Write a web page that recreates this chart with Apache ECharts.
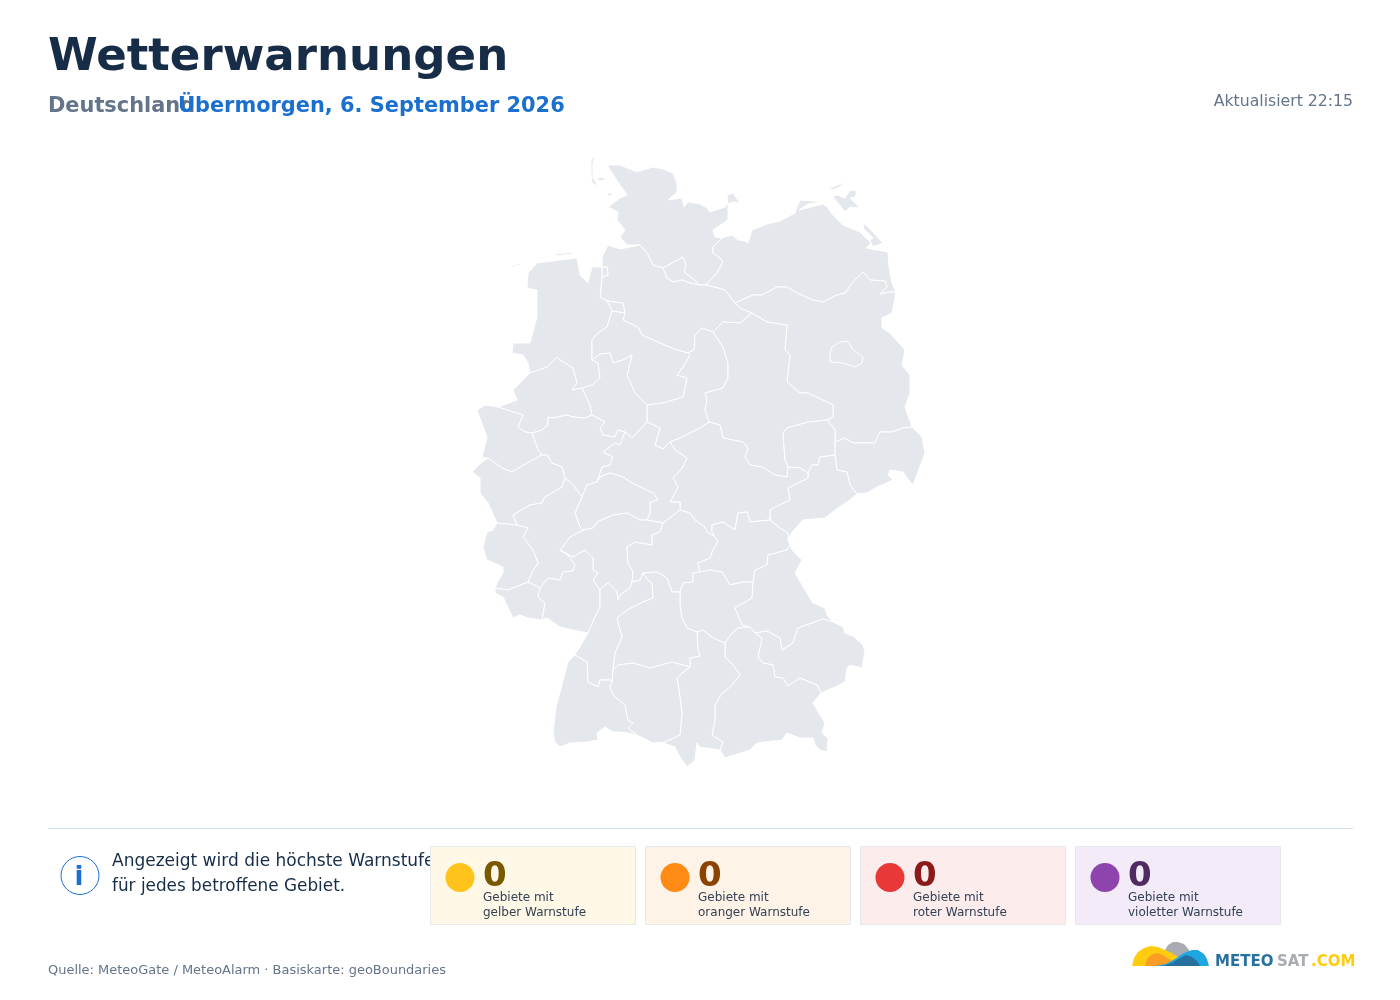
<!DOCTYPE html>
<html>
<head>
<meta charset="utf-8">
<title>Wetterwarnungen</title>
<script src="https://cdn.jsdelivr.net/npm/echarts@6/dist/echarts.min.js"></script>
<style>
html, body { margin: 0; padding: 0; background: #fff; }
#container { width: 1400px; height: 1000px; }
</style>
</head>
<body>
<div id="container"></div>
<script>
// Warngebiete, alle ohne Warnung
var regionNames = ['Schleswig-Holstein', 'Hamburg', 'Mecklenburg-Vorpommern', 'Lüneburg', 'Bremen', 'Bremerhaven', 'Weser-Ems', 'Hannover', 'Braunschweig',
	'Brandenburg', 'Sachsen-Anhalt', 'Leipzig', 'Dresden', 'Chemnitz', 'Thüringen', 'Münster', 'Detmold', 'Arnsberg', 'Düsseldorf-Köln', 'Kassel', 'Gießen', 'Darmstadt',
	'Trier', 'Koblenz', 'Westeifel-Saar', 'Saarland', 'Rheinhessen-Pfalz', 'Unterfranken', 'Oberfranken', 'Mittelfranken', 'Oberpfalz', 'Niederbayern', 'Oberbayern', 'Schwaben',
	'Karlsruhe', 'Stuttgart', 'Freiburg', 'Tübingen'];
var regionValues = [0, 0, 0, 0, 0, 0, 0, 0, 0, 0, 0, 0, 0, 0, 0, 0, 0, 0, 0, 0, 0, 0, 0, 0, 0, 0, 0, 0, 0, 0, 0, 0, 0, 0, 0, 0, 0, 0];

var warnCounts = [0, 0, 0, 0];
var warnLabels = ['gelber Warnstufe', 'oranger Warnstufe', 'roter Warnstufe', 'violetter Warnstufe'];
var warnColors = ['#ffc41c', '#ff8a14', '#e83838', '#8e44ad'];
var warnBacks = ['#fff8e6', '#fff3e8', '#fdecec', '#f3ebf8'];
var warnInks = ['#7a5800', '#8a4300', '#8b1a1a', '#4f2a63'];

// Umrisse der Gebiete (Ring pro Gebiet, weitere Ringe sind Inseln)
var regionShapes = {
	'Schleswig-Holstein': [[[640,245],[627,245],[620,237],[625,230],[617,220],[618,212],[608,207],[620,198],[627,195],[620,185],[612,173],[607,165],[620,165],[637,172],[653,167],[663,169],[673,173],[677,183],[677,192],[668,200],[682,198],[684,207],[688,202],[700,204],[707,208],[710,212],[725,207],[728,203],[728,220],[713,230],[715,237],[722,238],[713,247],[713,253],[720,258],[723,262],[717,273],[706,285],[700,285],[692,278],[684,272],[686,265],[683,257],[672,263],[663,268],[653,265],[647,253]],
		[[727,195],[733,193],[737,199],[740,203],[733,202],[728,204]],
		[[595,155],[591,160],[591,175],[592,183],[598,186],[593,178],[593,163]],
		[[597,178],[603,177],[605,180],[599,181]],
		[[607,194],[612,192],[611,196],[608,196]]],
	'Hamburg': [[[663,268],[672,263],[683,257],[686,265],[684,272],[692,278],[700,285],[690,283],[682,280],[673,282],[667,278]]],
	'Mecklenburg-Vorpommern': [[[722,238],[732,235],[738,240],[745,241],[748,243],[752,230],[767,224],[780,221],[795,213],[797,207],[800,200],[812,201],[823,202],[808,204],[799,210],[823,204],[827,207],[833,215],[843,225],[850,228],[860,232],[871,243],[866,248],[888,252],[889,267],[892,283],[896,292],[890,292],[880,294],[887,287],[885,281],[870,280],[863,272],[853,282],[845,293],[837,295],[823,302],[813,300],[797,293],[787,287],[777,287],[762,295],[753,295],[735,303],[725,290],[718,288],[706,285],[717,273],[723,262],[720,258],[713,253],[713,247]],
		[[837,195],[845,198],[850,190],[857,191],[855,197],[850,198],[860,208],[850,207],[845,212],[838,203],[833,197]],
		[[830,188],[845,182],[838,188],[832,190]],
		[[863,223],[867,226],[883,243],[873,247],[870,240],[873,238],[864,229]]],
	'Lüneburg': [[[640,245],[647,253],[653,265],[663,268],[667,278],[673,282],[682,280],[690,283],[700,285],[706,285],[718,288],[725,290],[735,303],[740,308],[752,313],[740,323],[723,322],[713,332],[702,328],[695,335],[694,350],[688,353],[677,350],[660,343],[642,335],[638,327],[627,322],[623,320],[625,313],[623,303],[607,301],[600,297],[602,277],[608,275],[607,267],[602,267],[602,257],[608,245],[620,249]]],
	'Bremen': [[[607,301],[623,303],[625,313],[612,311]]],
	'Bremerhaven': [[[602,267],[607,267],[608,275],[602,277]]],
	'Weser-Ems': [[[512,353],[513,343],[530,343],[537,317],[537,290],[527,288],[528,273],[537,263],[577,258],[580,275],[588,283],[592,267],[602,267],[602,277],[600,297],[607,301],[612,311],[607,327],[598,333],[592,340],[592,350],[592,360],[598,363],[600,378],[592,385],[582,388],[572,390],[577,383],[573,368],[560,360],[557,357],[547,367],[530,373],[528,363],[523,355]],
		[[510,267],[520,263],[519,265],[511,268]],[[535,259],[548,257],[548,258],[535,260]],[[555,254],[572,252],[572,254],[555,256]]],
	'Hannover': [[[623,320],[627,322],[638,327],[642,335],[660,343],[677,350],[688,353],[690,355],[683,367],[677,375],[687,378],[683,397],[663,403],[647,405],[635,393],[627,375],[632,355],[623,360],[613,363],[610,353],[600,354],[592,360],[592,350],[592,340],[598,333],[607,327],[612,311],[625,313]]],
	'Braunschweig': [[[713,332],[723,347],[728,363],[728,378],[723,388],[705,393],[707,400],[705,410],[709,422],[700,428],[680,438],[670,442],[663,449],[655,445],[660,428],[647,422],[647,405],[663,403],[683,397],[687,378],[677,375],[683,367],[690,355],[688,353],[694,350],[695,335],[702,328]]],
	'Brandenburg': [[[735,303],[753,295],[762,295],[777,287],[787,287],[797,293],[813,300],[823,302],[837,295],[845,293],[853,282],[863,272],[870,280],[885,281],[887,287],[880,294],[890,292],[896,292],[892,313],[882,318],[882,328],[890,333],[905,350],[902,365],[910,375],[910,393],[905,407],[912,427],[903,428],[892,432],[880,432],[875,443],[853,443],[845,438],[835,442],[835,430],[827,420],[833,417],[833,405],[827,402],[808,393],[800,393],[787,382],[790,355],[785,350],[787,325],[767,322],[752,313],[740,308]],
		[[830,353],[832,347],[840,342],[848,341],[853,350],[863,357],[862,363],[855,367],[843,363],[830,362]]],
	'Sachsen-Anhalt': [[[752,313],[767,322],[787,325],[785,350],[790,355],[787,382],[800,393],[808,393],[827,402],[833,405],[833,417],[827,420],[808,422],[787,428],[783,433],[785,460],[788,467],[787,477],[775,475],[762,467],[750,465],[745,457],[748,448],[743,442],[723,438],[720,425],[709,422],[705,410],[707,400],[705,393],[723,388],[728,378],[728,363],[723,347],[713,332],[723,322],[740,323]]],
	'Leipzig': [[[788,467],[785,460],[783,433],[787,428],[808,422],[827,420],[835,430],[835,442],[835,455],[820,457],[818,465],[812,465],[808,473],[800,468]]],
	'Dresden': [[[835,442],[845,438],[853,443],[875,443],[880,432],[892,432],[903,428],[912,427],[922,437],[925,453],[913,485],[907,478],[903,472],[890,470],[888,475],[893,480],[877,487],[867,493],[857,494],[850,485],[847,472],[837,470],[835,455]]],
	'Chemnitz': [[[835,455],[837,470],[847,472],[850,485],[857,494],[847,502],[835,510],[825,518],[803,520],[792,532],[788,540],[788,533],[780,528],[770,520],[770,510],[775,507],[790,500],[788,488],[800,482],[808,478],[808,473],[812,465],[818,465],[820,457]]],
	'Thüringen': [[[787,477],[788,467],[800,468],[808,473],[808,478],[800,482],[788,488],[790,500],[775,507],[770,510],[770,520],[750,522],[747,512],[738,513],[735,530],[723,522],[712,525],[712,532],[715,537],[707,532],[705,527],[695,520],[690,513],[680,510],[680,502],[670,502],[678,487],[673,478],[683,467],[687,458],[675,450],[670,442],[680,438],[700,428],[709,422],[720,425],[723,438],[743,442],[748,448],[745,457],[750,465],[762,467],[775,475]]],
	'Münster': [[[530,373],[547,367],[557,357],[560,360],[573,368],[577,383],[572,390],[582,388],[590,405],[592,415],[585,418],[573,417],[567,415],[553,418],[548,417],[548,425],[542,430],[532,433],[525,432],[518,427],[523,415],[498,407],[517,400],[513,390]]],
	'Detmold': [[[592,360],[600,354],[610,353],[613,363],[623,360],[632,355],[627,375],[635,393],[647,405],[647,422],[632,438],[625,432],[618,430],[615,437],[603,435],[600,428],[605,422],[592,415],[590,405],[582,388],[592,385],[600,378],[598,363]]],
	'Arnsberg': [[[592,415],[605,422],[600,428],[603,435],[615,437],[618,430],[625,432],[620,445],[615,443],[603,452],[613,457],[610,465],[602,467],[597,482],[587,485],[582,497],[573,485],[565,478],[562,467],[552,463],[547,455],[542,455],[538,450],[532,433],[542,430],[548,425],[548,417],[553,418],[567,415],[573,417],[585,418]]],
	'Düsseldorf-Köln': [[[498,407],[523,415],[518,427],[525,432],[532,433],[538,450],[542,455],[527,463],[512,472],[502,468],[488,458],[482,457],[487,437],[477,410],[485,405]]],
	'Kassel': [[[647,422],[660,428],[655,445],[663,449],[670,442],[675,450],[687,458],[683,467],[673,478],[678,487],[670,502],[680,502],[680,510],[663,523],[647,520],[650,513],[650,502],[658,500],[653,493],[632,483],[623,477],[610,473],[600,477],[597,482],[602,467],[610,465],[613,457],[603,452],[615,443],[620,445],[625,432],[632,438]]],
	'Gießen': [[[597,482],[600,477],[610,473],[623,477],[632,483],[653,493],[658,500],[650,502],[650,513],[647,520],[640,520],[627,513],[613,515],[597,522],[593,528],[583,530],[580,527],[575,513],[582,497],[587,485]]],
	'Darmstadt': [[[583,530],[593,528],[597,522],[613,515],[627,513],[640,520],[647,520],[663,523],[660,532],[652,535],[652,545],[635,542],[627,547],[627,550],[628,563],[633,572],[632,582],[630,588],[620,595],[618,600],[617,592],[608,583],[602,588],[600,590],[593,580],[598,573],[593,570],[593,558],[585,550],[573,557],[560,550],[570,537]]],
	'Trier': [[[488,458],[502,468],[512,472],[527,463],[542,455],[547,455],[552,463],[562,467],[565,478],[562,487],[545,497],[542,503],[530,505],[513,515],[517,525],[497,523],[488,503],[480,493],[480,478],[472,472],[482,462]]],
	'Koblenz': [[[565,478],[573,485],[582,497],[575,513],[580,527],[583,530],[570,537],[560,550],[568,555],[575,565],[573,571],[563,572],[560,580],[548,578],[540,588],[528,582],[532,572],[538,563],[533,550],[523,537],[528,528],[517,525],[513,515],[530,505],[542,503],[545,497],[562,487]]],
	'Westeifel-Saar': [[[497,523],[517,525],[528,528],[523,537],[533,550],[538,563],[532,572],[528,582],[508,590],[495,588],[497,583],[503,573],[503,567],[487,560],[483,547],[487,532],[493,530]]],
	'Saarland': [[[495,588],[508,590],[528,582],[540,588],[538,597],[545,603],[542,620],[528,618],[520,615],[513,618],[503,597],[495,593]]],
	'Rheinhessen-Pfalz': [[[560,550],[573,557],[585,550],[593,558],[593,570],[598,573],[593,580],[600,590],[600,607],[595,617],[588,633],[573,630],[560,627],[547,618],[542,620],[545,603],[538,597],[540,588],[548,578],[560,580],[563,572],[573,571],[575,565],[568,555]]],
	'Unterfranken': [[[663,523],[680,510],[690,513],[695,520],[705,527],[707,532],[715,537],[718,542],[713,550],[710,558],[698,563],[700,572],[693,573],[693,582],[683,583],[680,592],[672,592],[667,578],[657,572],[643,573],[640,580],[632,582],[633,572],[628,563],[627,550],[627,547],[635,542],[652,545],[652,535],[660,532]]],
	'Oberfranken': [[[715,537],[718,542],[713,550],[710,558],[698,563],[700,572],[710,570],[722,572],[730,585],[743,582],[753,582],[755,570],[767,565],[768,555],[787,550],[790,545],[788,540],[788,533],[780,528],[770,520],[750,522],[747,512],[738,513],[735,530],[723,522],[712,525],[712,532]]],
	'Mittelfranken': [[[680,592],[683,583],[693,582],[693,573],[700,572],[710,570],[722,572],[730,585],[743,582],[753,582],[752,598],[735,608],[742,625],[750,627],[738,628],[733,632],[725,643],[713,638],[703,630],[697,632],[687,628],[682,618],[680,605]]],
	'Oberpfalz': [[[790,545],[792,550],[802,560],[795,573],[805,590],[813,603],[825,608],[827,615],[833,622],[823,619],[798,628],[793,643],[782,650],[780,638],[767,631],[755,633],[750,627],[742,625],[735,608],[752,598],[753,582],[755,570],[767,565],[768,555],[787,550]]],
	'Niederbayern': [[[833,622],[843,627],[845,633],[853,636],[863,645],[865,652],[862,668],[850,665],[847,668],[845,682],[837,686],[821,693],[817,685],[800,678],[788,686],[783,678],[775,677],[773,665],[763,663],[758,657],[762,638],[755,633],[767,631],[780,638],[782,650],[793,643],[798,628],[823,619]]],
	'Oberbayern': [[[750,627],[755,633],[762,638],[758,657],[763,663],[773,665],[775,677],[783,678],[788,686],[800,678],[817,685],[821,693],[813,703],[817,710],[825,723],[822,733],[828,738],[827,752],[820,750],[815,745],[813,738],[800,738],[787,733],[782,740],[757,743],[750,750],[725,758],[720,750],[723,742],[712,735],[715,720],[715,705],[722,693],[730,687],[740,675],[733,665],[725,657],[725,643],[733,632],[738,628]]],
	'Schwaben': [[[697,632],[703,630],[713,638],[725,643],[725,657],[733,665],[740,675],[730,687],[722,693],[715,705],[715,720],[712,735],[723,742],[720,750],[700,747],[697,743],[695,760],[687,767],[680,757],[675,747],[663,743],[653,743],[665,742],[680,735],[682,713],[680,697],[677,678],[682,673],[690,667],[690,658],[700,656],[698,650]]],
	'Karlsruhe': [[[588,633],[595,617],[600,607],[600,590],[602,588],[608,583],[617,592],[618,600],[620,595],[630,588],[632,582],[640,580],[643,573],[648,580],[652,583],[653,598],[643,602],[627,610],[617,618],[622,637],[615,653],[613,670],[612,682],[610,680],[600,680],[598,687],[588,682],[587,662],[575,655],[573,657],[580,647]]],
	'Stuttgart': [[[643,573],[657,572],[667,578],[672,592],[680,592],[680,605],[682,618],[687,628],[697,632],[698,650],[700,656],[690,658],[690,667],[672,662],[650,668],[633,663],[618,665],[613,670],[615,653],[622,637],[617,618],[627,610],[643,602],[653,598],[652,583],[648,580]]],
	'Freiburg': [[[573,657],[575,655],[587,662],[588,682],[598,687],[600,680],[610,680],[612,682],[610,687],[613,695],[625,705],[628,720],[633,723],[628,728],[637,735],[628,733],[620,732],[613,732],[605,727],[597,733],[598,740],[587,742],[570,743],[560,747],[555,742],[553,733],[556,707],[568,662]]],
	'Tübingen': [[[613,670],[618,665],[633,663],[650,668],[672,662],[690,667],[682,673],[677,678],[680,697],[682,713],[680,735],[665,742],[653,743],[637,735],[628,728],[633,723],[628,720],[625,705],[613,695],[610,687],[612,682]]]
};

var page = {
	init: function () {
		this.registerMap();
		var chart = echarts.init(document.getElementById('container'), null, { renderer: 'canvas' });
		chart.setOption({
			backgroundColor: '#fff',
			animation: false,
			textStyle: { fontFamily: 'DejaVu Sans' },
			graphic: this.headerAndFooter().concat(this.cards(), this.logo()),
			series: [{
				type: 'map',
				map: 'deutschland',
				projection: {
					project: function (p) { return p; },
					unproject: function (p) { return p; }
				},
				aspectScale: 1,
				left: 472,
				top: 155,
				width: 453,
				height: 612,
				roam: false,
				silent: true,
				selectedMode: false,
				label: { show: false },
				itemStyle: { areaColor: '#e4e7ec', borderColor: '#fff', borderWidth: 1 },
				emphasis: { disabled: true },
				data: regionNames.map(function (name, i) {
					return { name: name, value: regionValues[i] };
				})
			}]
		});
	},
	registerMap: function () {
		var features = regionNames.map(function (name) {
			var rings = regionShapes[name];
			var polys = rings.map(function (r) { return [r]; });
			// Berlin ist ein Loch in Brandenburg
			if (name === 'Brandenburg') polys = [[rings[0], rings[1]]];
			return {
				type: 'Feature',
				properties: { name: name },
				geometry: { type: 'MultiPolygon', coordinates: polys }
			};
		});
		echarts.registerMap('deutschland', { type: 'FeatureCollection', features: features });
	},
	// y ist die Grundlinie, zrender setzt den Text von oben
	text: function (x, y, str, size, weight, fill, align) {
		return {
			type: 'text', z: 10,
			style: { x: x, y: y - size * 0.76, text: str, font: weight + ' ' + size + 'px "DejaVu Sans"', fill: fill, textAlign: align || 'left' }
		};
	},
	headerAndFooter: function () {
		return [
			this.text(48, 70, 'Wetterwarnungen', 45.1, 'bold', '#172d47'),
			this.text(48, 112, 'Deutschland', 20.9, 'bold', '#64748b'),
			this.text(178, 112, 'Übermorgen, 6. September 2026', 20.9, 'bold', '#1a6fcf'),
			this.text(1353, 106, 'Aktualisiert 22:15', 15.7, 'normal', '#64748b', 'right'),
			{ type: 'rect', z: 5, shape: { x: 48, y: 828, width: 1305, height: 1 }, style: { fill: '#d6e0e8' } },
			{ type: 'circle', z: 10, shape: { cx: 80, cy: 875.5, r: 19 }, style: { fill: '#fff', stroke: '#1a6fcf', lineWidth: 1 } },
			this.text(79, 885, 'i', 26, 'bold', '#1a6fcf', 'center'),
			this.text(112, 866, 'Angezeigt wird die höchste Warnstufe', 17, 'normal', '#172d47'),
			this.text(112, 891, 'für jedes betroffene Gebiet.', 16.85, 'normal', '#172d47'),
			this.text(48, 974, 'Quelle: MeteoGate / MeteoAlarm · Basiskarte: geoBoundaries', 12.97, 'normal', '#64748b')
		];
	},
	cards: function () {
		var self = this, out = [];
		warnLabels.forEach(function (label, i) {
			var x = 430.5 + i * 215;
			out.push({ type: 'rect', z: 20, shape: { x: x, y: 846.5, width: 205, height: 78 }, style: { fill: warnBacks[i], stroke: '#e5e8ed', lineWidth: 1 } });
			out.push({ type: 'circle', z: 21, shape: { cx: x + 29.5, cy: 877.5, r: 14.5 }, style: { fill: warnColors[i] } });
			var a = self.text(x + 52.5, 886, String(warnCounts[i]), 34, 'bold', warnInks[i]);
			var b = self.text(x + 52.5, 901, 'Gebiete mit', 12, 'normal', '#334155');
			var c = self.text(x + 52.5, 916, label, 12, 'normal', '#334155');
			a.z = b.z = c.z = 21;
			out.push(a, b, c);
		});
		return out;
	},
	logo: function () {
		var parts = [
			{ fill: '#a9acb0', z: 10, pts: [[1163,966],[1164,952],[1168,945],[1173,942],[1178,942],[1184,944],[1189,950],[1192,958],[1192,966]] },
			{ fill: '#ffcc0f', z: 11, pts: [[1132,966],[1134,958],[1138,952],[1144,948],[1151,946],[1158,947],[1165,950],[1172,953],[1178,957],[1178,966]] },
			{ fill: '#f99d25', z: 12, pts: [[1145,966],[1147,959],[1151,955],[1157,953],[1163,955],[1169,959],[1176,966]] },
			{ fill: '#1ea7e1', z: 13, pts: [[1155,966],[1166,964],[1175,959],[1184,953],[1192,950],[1198,950],[1204,954],[1207,959],[1209,966]] },
			{ fill: '#27709f', z: 14, pts: [[1162,966],[1172,963],[1180,958],[1186,955],[1192,957],[1197,961],[1200,966]] }
		];
		var out = parts.map(function (p) {
			return { type: 'polygon', z: p.z, shape: { points: p.pts }, style: { fill: p.fill } };
		});
		out.push(this.text(1215, 966, 'METEO', 15, 'bold', '#27709f'));
		out.push(this.text(1277, 966, 'SAT', 15, 'bold', '#a9acb0'));
		out.push(this.text(1311, 966, '.COM', 15, 'bold', '#ffcc0f'));
		return out;
	}
};

page.init();
</script>
</body>
</html>
